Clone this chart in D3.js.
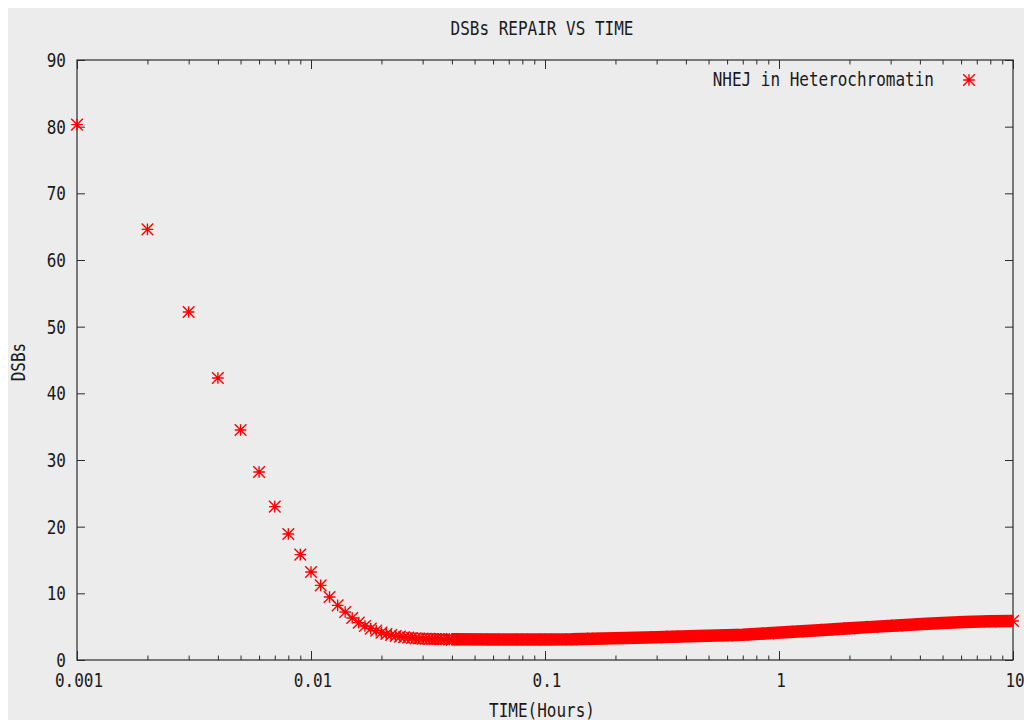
<!DOCTYPE html>
<html>
<head>
<meta charset="utf-8">
<script src="https://cdn.jsdelivr.net/npm/d3@7"></script>
<style>
  body { margin: 0; background: #fff; }
  text { font-family: "DejaVu Sans Mono", monospace; font-size: 16px; fill: #1a1a1a; }
</style>
</head>
<body>
<script>
// early points (one star per 0.001 h)
let times = [0.001, 0.002, 0.003, 0.004, 0.005, 0.006, 0.007, 0.008, 0.009, 0.010,
             0.011, 0.012, 0.013, 0.014, 0.015, 0.016, 0.017, 0.018, 0.019, 0.020,
             0.021, 0.022, 0.023, 0.024, 0.025, 0.026, 0.027, 0.028, 0.029, 0.030,
             0.031, 0.032, 0.033, 0.034, 0.035, 0.036, 0.037, 0.038, 0.039, 0.040];
let dsbs = [80.3, 64.6, 52.2, 42.3, 34.5, 28.2, 23.0, 18.9, 15.8, 13.2,
            11.2, 9.45, 8.2, 7.2, 6.3, 5.6, 5.1, 4.7, 4.4, 4.1,
            3.9, 3.75, 3.6, 3.5, 3.42, 3.35, 3.3, 3.25, 3.22, 3.2,
            3.18, 3.17, 3.16, 3.15, 3.14, 3.13, 3.12, 3.11, 3.1, 3.1];

// dense tail: the stars merge into a solid band, sampled along it
let tailTimes = [0.04, 0.06, 0.08, 0.1, 0.13, 0.16, 0.22, 0.3, 0.35, 0.45, 0.6, 0.7,
                 0.9, 1.2, 1.6, 2.0, 2.5, 3.2, 4.1, 5.0, 6.2, 8.0, 10];
let tailDsbs = [3.1, 3.08, 3.08, 3.08, 3.1, 3.2, 3.3, 3.42, 3.5, 3.6, 3.7, 3.78,
                4.0, 4.28, 4.53, 4.75, 4.97, 5.17, 5.4, 5.55, 5.7, 5.8, 5.85];

let xTicks = [0.001, 0.01, 0.1, 1, 10];
let xTickLabels = ["0.001", "0.01", "0.1", "1", "10"];
let yTicks = [0, 10, 20, 30, 40, 50, 60, 70, 80, 90];
let yTickLabels = ["0", "10", "20", "30", "40", "50", "60", "70", "80", "90"];

let title = "DSBs REPAIR VS TIME";
let xTitle = "TIME(Hours)";
let yTitle = "DSBs";
let legendLabel = "NHEJ in Heterochromatin";

const width = 1024;
const height = 720;
const plotLeft = 77, plotRight = 1013, plotTop = 60, plotBottom = 660;

var svg = d3.select("body").append("svg")
    .attr("width", width)
    .attr("height", height);

// grey canvas like gnuplot's window
svg.append("rect")
    .attr("x", 8).attr("y", 8)
    .attr("width", width - 8).attr("height", height - 8)
    .attr("fill", "#ececec");

const x = d3.scaleLog().domain([0.001, 10]).range([plotLeft, plotRight]);
const y = d3.scaleLinear().domain([0, 90]).range([plotBottom, plotTop]);

// minor ticks 2..9 in every decade
let minorTicks = [];
for (let d = 0; d < xTicks.length - 1; d++) {
    for (let m = 2; m <= 9; m++) minorTicks.push(xTicks[d] * m);
}

function styleAxis(g) {
    g.select(".domain").remove();
    g.selectAll("line").attr("stroke", "#2b2b2b").attr("stroke-width", 1);
}

// ticks on all four sides, pointing inwards
svg.append("g").attr("transform", `translate(0,${plotBottom})`)
    .call(d3.axisBottom(x).tickValues(xTicks).tickSize(-9).tickFormat("")).call(styleAxis);
svg.append("g").attr("transform", `translate(0,${plotBottom})`)
    .call(d3.axisBottom(x).tickValues(minorTicks).tickSize(-4.5).tickFormat("")).call(styleAxis);
svg.append("g").attr("transform", `translate(0,${plotTop})`)
    .call(d3.axisTop(x).tickValues(xTicks).tickSize(-9).tickFormat("")).call(styleAxis);
svg.append("g").attr("transform", `translate(0,${plotTop})`)
    .call(d3.axisTop(x).tickValues(minorTicks).tickSize(-4.5).tickFormat("")).call(styleAxis);
svg.append("g").attr("transform", `translate(${plotLeft},0)`)
    .call(d3.axisLeft(y).tickValues(yTicks).tickSize(-8).tickFormat("")).call(styleAxis);
svg.append("g").attr("transform", `translate(${plotRight},0)`)
    .call(d3.axisRight(y).tickValues(yTicks).tickSize(-8).tickFormat("")).call(styleAxis);

svg.append("rect")
    .attr("x", plotLeft).attr("y", plotTop)
    .attr("width", plotRight - plotLeft).attr("height", plotBottom - plotTop)
    .attr("fill", "none")
    .attr("stroke", "#2b2b2b")
    .attr("stroke-width", 1.2);

// tall narrow text like the x11 font
function addText(px, py, str, anchor, rot) {
    return svg.append("text")
        .attr("transform", `translate(${px},${py}) rotate(${rot || 0}) scale(1,1.2)`)
        .attr("text-anchor", anchor)
        .text(str);
}

xTicks.forEach((t, i) => addText(x(t) + 2, 687, xTickLabels[i], "middle"));
yTicks.forEach((t, i) => addText(66, y(t) + 7, yTickLabels[i], "end"));

addText(542, 35, title, "middle");
addText(542, 717, xTitle, "middle");
addText(25, 362, yTitle, "middle", -90);

// the band where the stars run together
const band = d3.line().x((d, i) => x(tailTimes[i])).y(d => y(d));
svg.append("path")
    .attr("d", band(tailDsbs))
    .attr("fill", "none")
    .attr("stroke", "#ff0000")
    .attr("stroke-width", 12.5)
    .attr("stroke-linecap", "butt");

const s = 5.8;
const star = `M${-s},0H${s}M0,${-s}V${s}M${-s},${-s}L${s},${s}M${-s},${s}L${s},${-s}`;

let allTimes = times.concat(tailTimes);
let allDsbs = dsbs.concat(tailDsbs);

svg.append("g").selectAll("path")
    .data(allDsbs)
    .enter()
    .append("path")
    .attr("transform", (d, i) => `translate(${x(allTimes[i])},${y(d)})`)
    .attr("d", star)
    .attr("fill", "none")
    .attr("stroke", "#ff0000")
    .attr("stroke-width", 1.4);

// legend
addText(934, 86, legendLabel, "end");
svg.append("path")
    .attr("transform", "translate(969,80)")
    .attr("d", star)
    .attr("fill", "none")
    .attr("stroke", "#ff0000")
    .attr("stroke-width", 1.4);
</script>
</body>
</html>
